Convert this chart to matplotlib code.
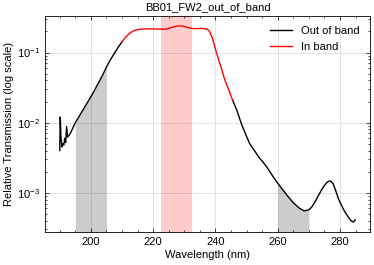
import numpy as np
import matplotlib
matplotlib.use("Agg")
import matplotlib.pyplot as plt

plt.rcParams['font.family'] = ['Liberation Sans', 'DejaVu Sans']
plt.rcParams['font.size'] = 8

# wavelength (nm) and relative transmission
wavelength = [190.0, 190.15, 190.4, 190.7, 191.0, 191.3, 191.6, 191.9, 192.2, 192.5,
              192.9, 193.5, 194.0, 195.0, 196.0, 197.0, 198.0, 199.0, 200.0, 201.0,
              202.0, 203.0, 204.0, 205.0, 206.0, 207.0, 208.0, 209.0, 210.0, 211.0,
              212.0, 213.0, 214.0, 215.0, 216.0, 218.0, 220.0, 222.0, 223.5, 225.0,
              226.5, 228.0, 229.5, 231.0, 232.5, 234.0, 235.5, 236.5, 237.3, 238.0,
              239.0, 240.3, 241.5, 243.0, 244.3, 245.5, 247.0, 248.3, 249.6, 251.0,
              252.5, 254.0, 256.3, 258.5, 260.0, 261.1, 263.0, 265.0, 267.0, 268.5,
              270.0, 271.0, 272.0, 273.0, 274.0, 275.0, 276.0, 276.9, 277.8, 278.7,
              279.5, 280.5, 281.4, 282.5, 283.5, 284.3, 284.9]
transmission = [0.0040, 0.0120, 0.0060, 0.0045, 0.0050, 0.0048, 0.0060, 0.0052, 0.0088, 0.0062,
                0.0065, 0.0072, 0.0080, 0.0100, 0.0118, 0.0140, 0.0166, 0.0197, 0.0235, 0.0280,
                0.0340, 0.0410, 0.0500, 0.0620, 0.0750, 0.0890, 0.1050, 0.1230, 0.1420, 0.1620,
                0.1800, 0.1960, 0.2060, 0.2120, 0.2150, 0.2170, 0.2170, 0.2160, 0.2140, 0.2200,
                0.2320, 0.2400, 0.2380, 0.2280, 0.2200, 0.2190, 0.2210, 0.2190, 0.2150, 0.2030,
                0.1620, 0.1000, 0.0680, 0.0410, 0.0290, 0.0210, 0.0145, 0.0097, 0.0070, 0.0050,
                0.0040, 0.0032, 0.0024, 0.0017, 0.00137, 0.00118, 0.00092, 0.00072, 0.00060, 0.00055,
                0.00057, 0.00063, 0.00074, 0.00090, 0.00108, 0.00127, 0.00143, 0.00147, 0.00135, 0.00105,
                0.00082, 0.00066, 0.00055, 0.00046, 0.00040, 0.00038, 0.00041]

band_start, band_end = 210.0, 245.5
in_band_window = (222.5, 232.5)
out_band_windows = [(195.0, 205.0), (260.0, 270.0)]

wl = np.array(wavelength)
tr = np.array(transmission)

fig = plt.figure(figsize=(3.74, 2.65), dpi=100)
ax = fig.add_axes([0.1203, 0.1245, 0.8690, 0.8150])
ax.set_yscale('log')

below = wl <= band_start
above = wl >= band_end
inside = (wl >= band_start) & (wl <= band_end)
ax.plot(wl[below], tr[below], color='black', lw=1.0, label='Out of band')
ax.plot(wl[above], tr[above], color='black', lw=1.0)
ax.plot(wl[inside], tr[inside], color='red', lw=1.0, label='In band')

# shade under the curve in the out-of-band windows, full height for in band
ylo, yhi = ax.get_ylim()
for lo, hi in out_band_windows:
    m = (wl >= lo) & (wl <= hi)
    ax.fill_between(wl[m], tr[m], ylo, color='black', alpha=0.2, lw=0)
ax.axvspan(*in_band_window, color='red', alpha=0.2, lw=0)
ax.set_ylim(ylo, yhi)

ax.set_xticks([200, 220, 240, 260, 280])
ax.xaxis.set_minor_locator(matplotlib.ticker.MultipleLocator(5))
ax.tick_params(which='both', direction='in', top=True, right=True, width=0.5)
ax.tick_params(which='major', length=3)
ax.tick_params(which='minor', length=1.5)
for s in ax.spines.values():
    s.set_linewidth(0.6)
ax.grid(True, which='major', color='#dddddd', lw=0.6)
ax.set_axisbelow(True)

ax.set_xlabel('Wavelength (nm)', labelpad=2)
ax.set_ylabel('Relative Transmission (log scale)', labelpad=2)
ax.set_title('BB01_FW2_out_of_band', fontsize=8, pad=4)
ax.legend(loc='upper right', frameon=False)

fig.savefig('out.png', dpi=100)
